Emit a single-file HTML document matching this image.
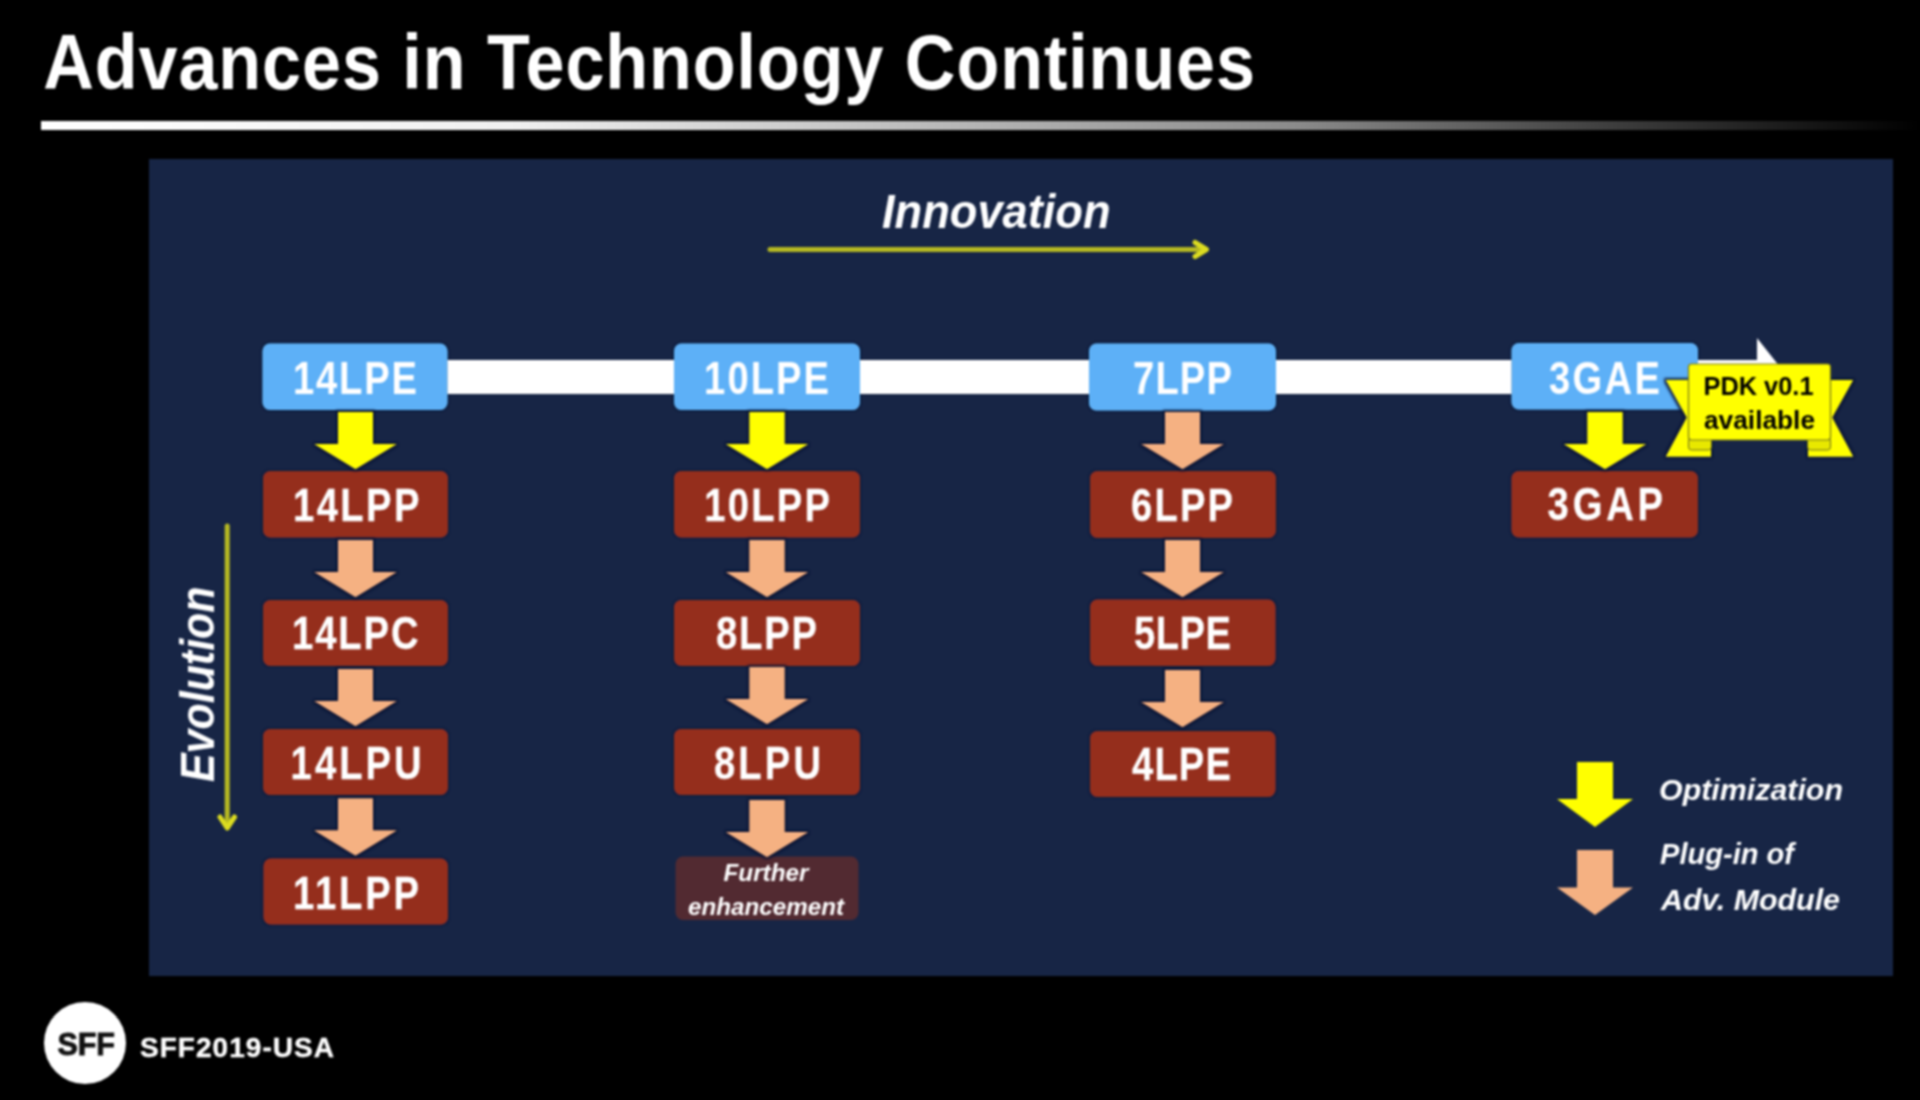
<!DOCTYPE html>
<html><head><meta charset="utf-8">
<style>
html,body{margin:0;padding:0;background:#000;}
body{width:1920px;height:1100px;overflow:hidden;position:relative;font-family:"Liberation Sans",sans-serif;}
svg{position:absolute;left:0;top:0;filter:blur(0.8px);}
</style></head>
<body>
<svg width="1920" height="1100" viewBox="0 0 1920 1100" font-family="Liberation Sans, sans-serif">
<defs>
<linearGradient id="ul" x1="40" y1="0" x2="1920" y2="0" gradientUnits="userSpaceOnUse">
<stop offset="0" stop-color="#fff"/>
<stop offset="0.25" stop-color="#f0f0f0"/>
<stop offset="0.5" stop-color="#b4b4b4"/>
<stop offset="0.67" stop-color="#8a8a8a"/>
<stop offset="0.83" stop-color="#404040"/>
<stop offset="1" stop-color="#000"/>
</linearGradient>
<filter id="glow" x="-20%" y="-20%" width="140%" height="140%">
<feMorphology in="SourceAlpha" operator="dilate" radius="1.5" result="d"/>
<feGaussianBlur in="d" stdDeviation="1.2" result="b"/>
<feFlood flood-color="#0a1433" flood-opacity="0.9"/>
<feComposite in2="b" operator="in" result="sh"/>
<feMerge><feMergeNode in="sh"/><feMergeNode in="SourceGraphic"/></feMerge>
</filter>
<filter id="glow2" x="-10%" y="-20%" width="120%" height="140%">
<feMorphology in="SourceAlpha" operator="dilate" radius="1" result="d"/>
<feGaussianBlur in="d" stdDeviation="1" result="b"/>
<feFlood flood-color="#0c1838" flood-opacity="0.8"/>
<feComposite in2="b" operator="in" result="sh"/>
<feMerge><feMergeNode in="sh"/><feMergeNode in="SourceGraphic"/></feMerge>
</filter>
</defs>
<rect x="0" y="0" width="1920" height="1100" fill="#000"/>
<text transform="translate(43.20,89) scale(0.91,1)" x="0" y="0" font-size="77" fill="#fff" font-weight="bold" textLength="1331.65" lengthAdjust="spacing">Advances in Technology Continues</text>
<rect x="41" y="121" width="1879" height="9" fill="url(#ul)"/>
<rect x="149" y="159" width="1744" height="817" fill="#172545"/>
<text x="882.00" y="228" font-size="49" fill="#fff" font-weight="bold" font-style="italic" textLength="228.50" lengthAdjust="spacingAndGlyphs">Innovation</text>
<line x1="770" y1="249.5" x2="1200" y2="249.5" stroke="#b5b822" stroke-width="5" stroke-linecap="round"/>
<polyline points="1195,242.5 1206.5,249.5 1195,256.5" fill="none" stroke="#dcdc20" stroke-width="5" stroke-linecap="round" stroke-linejoin="round"/>
<g transform="translate(214,782) rotate(-90)"><text x="0.00" y="0" font-size="49" fill="#fff" font-weight="bold" font-style="italic" textLength="195.50" lengthAdjust="spacingAndGlyphs">Evolution</text></g>
<line x1="227.2" y1="526" x2="227.2" y2="824" stroke="#b5b822" stroke-width="5" stroke-linecap="round"/>
<polyline points="220,817 227.2,828 234.5,817" fill="none" stroke="#dcdc20" stroke-width="5" stroke-linecap="round" stroke-linejoin="round"/>
<g fill="#5db0f7" filter="url(#glow2)">
<rect x="262.5" y="343.5" width="185" height="66.5" rx="7.5"/>
<rect x="674" y="343.5" width="186" height="66.5" rx="7.5"/>
<rect x="1089" y="343.5" width="187" height="67" rx="7.5"/>
<rect x="1511.5" y="343" width="186.5" height="66.5" rx="7.5"/>
</g>
<g fill="#952e1f" filter="url(#glow2)">
<rect x="263" y="471" width="185" height="66.5" rx="7.5"/>
<rect x="263" y="600" width="185" height="66" rx="7.5"/>
<rect x="263" y="729" width="185" height="66" rx="7.5"/>
<rect x="263.5" y="858.5" width="184.5" height="66" rx="7.5"/>
<rect x="674" y="471" width="186" height="66.5" rx="7.5"/>
<rect x="674" y="600" width="186" height="66" rx="7.5"/>
<rect x="674" y="729" width="186" height="66" rx="7.5"/>
<rect x="1090" y="471" width="186" height="67" rx="7.5"/>
<rect x="1090" y="599.5" width="185.5" height="66.5" rx="7.5"/>
<rect x="1090" y="731" width="185.5" height="66" rx="7.5"/>
<rect x="1511.5" y="471" width="186.5" height="66.5" rx="7.5"/>
</g>
<g fill="#fff">
<rect x="447.5" y="360" width="226.5" height="34"/>
<rect x="860" y="360" width="229" height="34"/>
<rect x="1276" y="360" width="235.5" height="34"/>
<rect x="1698" y="360" width="62" height="34"/>
<polygon points="1757,338 1788,377 1757,416"/>
</g>
<rect x="675.5" y="856.5" width="183" height="63.5" rx="7.5" fill="#522a31"/>
<g filter="url(#glow)">
<polygon points="338.0,412 373.0,412 373.0,444 396.5,444 355.5,469 314.5,444 338.0,444" fill="#ffff00"/>
<polygon points="338.0,540 373.0,540 373.0,572 396.5,572 355.5,597 314.5,572 338.0,572" fill="#f5b182"/>
<polygon points="338.0,669 373.0,669 373.0,701 396.5,701 355.5,726 314.5,701 338.0,701" fill="#f5b182"/>
<polygon points="338.0,798.5 373.0,798.5 373.0,830.5 396.5,830.5 355.5,855.5 314.5,830.5 338.0,830.5" fill="#f5b182"/>
<polygon points="749.5,412 784.5,412 784.5,444 808.0,444 767,469 726.0,444 749.5,444" fill="#ffff00"/>
<polygon points="749.5,540 784.5,540 784.5,572 808.0,572 767,597 726.0,572 749.5,572" fill="#f5b182"/>
<polygon points="749.5,667 784.5,667 784.5,699 808.0,699 767,724 726.0,699 749.5,699" fill="#f5b182"/>
<polygon points="749.5,800 784.5,800 784.5,832 808.0,832 767,857 726.0,832 749.5,832" fill="#f5b182"/>
<polygon points="1165.0,412 1200.0,412 1200.0,444 1223.5,444 1182.5,469 1141.5,444 1165.0,444" fill="#f5b182"/>
<polygon points="1165.0,540 1200.0,540 1200.0,572 1223.5,572 1182.5,597 1141.5,572 1165.0,572" fill="#f5b182"/>
<polygon points="1165.0,670 1200.0,670 1200.0,702 1223.5,702 1182.5,727 1141.5,702 1165.0,702" fill="#f5b182"/>
<polygon points="1587.5,412 1622.5,412 1622.5,444 1646.0,444 1605,469 1564.0,444 1587.5,444" fill="#ffff00"/>
</g>
<text transform="translate(293.00,393.5) scale(0.84,1)" x="0" y="0" font-size="45.5" fill="#fff" font-weight="bold" textLength="147.62" lengthAdjust="spacing">14LPE</text>
<text transform="translate(704.10,393.5) scale(0.84,1)" x="0" y="0" font-size="45.5" fill="#fff" font-weight="bold" textLength="148.81" lengthAdjust="spacing">10LPE</text>
<text transform="translate(1133.00,393.5) scale(0.84,1)" x="0" y="0" font-size="45.5" fill="#fff" font-weight="bold" textLength="117.86" lengthAdjust="spacing">7LPP</text>
<text transform="translate(1549.00,393.5) scale(0.84,1)" x="0" y="0" font-size="45.5" fill="#fff" font-weight="bold" textLength="132.14" lengthAdjust="spacing">3GAE</text>
<text transform="translate(293.00,520.5) scale(0.84,1)" x="0" y="0" font-size="45.5" fill="#fff" font-weight="bold" textLength="150.60" lengthAdjust="spacing" stroke="#fff" stroke-width="0.25">14LPP</text>
<text transform="translate(292.00,649) scale(0.84,1)" x="0" y="0" font-size="45.5" fill="#fff" font-weight="bold" textLength="150.71" lengthAdjust="spacing" stroke="#fff" stroke-width="0.25">14LPC</text>
<text transform="translate(290.60,778.5) scale(0.84,1)" x="0" y="0" font-size="45.5" fill="#fff" font-weight="bold" textLength="156.07" lengthAdjust="spacing" stroke="#fff" stroke-width="0.25">14LPU</text>
<text transform="translate(293.00,908.5) scale(0.84,1)" x="0" y="0" font-size="45.5" fill="#fff" font-weight="bold" textLength="150.00" lengthAdjust="spacing" stroke="#fff" stroke-width="0.25">11LPP</text>
<text transform="translate(704.30,520.5) scale(0.84,1)" x="0" y="0" font-size="45.5" fill="#fff" font-weight="bold" textLength="149.64" lengthAdjust="spacing" stroke="#fff" stroke-width="0.25">10LPP</text>
<text transform="translate(716.00,649) scale(0.84,1)" x="0" y="0" font-size="45.5" fill="#fff" font-weight="bold" textLength="120.24" lengthAdjust="spacing" stroke="#fff" stroke-width="0.25">8LPP</text>
<text transform="translate(714.00,778.5) scale(0.84,1)" x="0" y="0" font-size="45.5" fill="#fff" font-weight="bold" textLength="127.38" lengthAdjust="spacing" stroke="#fff" stroke-width="0.25">8LPU</text>
<text transform="translate(1131.00,520.5) scale(0.84,1)" x="0" y="0" font-size="45.5" fill="#fff" font-weight="bold" textLength="121.43" lengthAdjust="spacing" stroke="#fff" stroke-width="0.25">6LPP</text>
<text transform="translate(1134.00,649) scale(0.84,1)" x="0" y="0" font-size="45.5" fill="#fff" font-weight="bold" textLength="115.48" lengthAdjust="spacing" stroke="#fff" stroke-width="0.25">5LPE</text>
<text transform="translate(1132.00,780) scale(0.84,1)" x="0" y="0" font-size="45.5" fill="#fff" font-weight="bold" textLength="117.86" lengthAdjust="spacing" stroke="#fff" stroke-width="0.25">4LPE</text>
<text transform="translate(1547.60,520) scale(0.84,1)" x="0" y="0" font-size="45.5" fill="#fff" font-weight="bold" textLength="137.38" lengthAdjust="spacing" stroke="#fff" stroke-width="0.25">3GAP</text>
<text x="723.50" y="880.5" font-size="24" fill="#fff" font-weight="bold" font-style="italic" textLength="85.00" lengthAdjust="spacingAndGlyphs">Further</text>
<text x="688.00" y="914.5" font-size="24" fill="#fff" font-weight="bold" font-style="italic" textLength="156.00" lengthAdjust="spacingAndGlyphs">enhancement</text>
<text x="1659.00" y="799.5" font-size="29" fill="#fff" font-weight="bold" font-style="italic" textLength="184.00" lengthAdjust="spacingAndGlyphs">Optimization</text>
<text x="1660.00" y="864" font-size="29" fill="#fff" font-weight="bold" font-style="italic" textLength="134.00" lengthAdjust="spacingAndGlyphs">Plug-in of</text>
<text x="1661.00" y="909.5" font-size="29" fill="#fff" font-weight="bold" font-style="italic" textLength="179.00" lengthAdjust="spacingAndGlyphs">Adv. Module</text>
<polygon points="1577,762 1613,762 1613,799 1633,799 1595,827 1557,799 1577,799" fill="#ffff00"/>
<polygon points="1577,850 1613,850 1613,887.5 1633,887.5 1595,915 1557,887.5 1577,887.5" fill="#f5b182"/>
<g filter="url(#glow)">
<polygon points="1666,380 1711,380 1711,456.5 1666,456.5 1687,417.5" fill="#ffff00"/>
<polygon points="1853,380 1808,380 1808,456.5 1853,456.5 1832,417.5" fill="#ffff00"/>
</g>
<rect x="1688.5" y="438" width="23" height="12" rx="3" fill="#e8e800" stroke="#6a6a20" stroke-width="1"/>
<rect x="1807.5" y="438" width="23" height="12" rx="3" fill="#e8e800" stroke="#6a6a20" stroke-width="1"/>
<rect x="1688.5" y="364" width="142" height="76" rx="3" fill="#ffff00" stroke="#77771c" stroke-width="1.2"/>
<text x="1703.50" y="394.5" font-size="25.5" fill="#000" font-weight="bold" textLength="110.00" lengthAdjust="spacingAndGlyphs">PDK v0.1</text>
<text x="1704.00" y="429" font-size="25.5" fill="#000" font-weight="bold" textLength="111.00" lengthAdjust="spacingAndGlyphs">available</text>
<circle cx="85" cy="1043" r="41" fill="#fff"/>
<text x="57.60" y="1055" font-size="30.5" fill="#111" font-weight="bold" textLength="57.40" lengthAdjust="spacing" stroke="#111" stroke-width="0.9">SFF</text>
<text x="139.90" y="1057" font-size="28" fill="#fff" font-weight="bold" textLength="194.10" lengthAdjust="spacing" stroke="#fff" stroke-width="0.4">SFF2019-USA</text>
</svg>
</body></html>
